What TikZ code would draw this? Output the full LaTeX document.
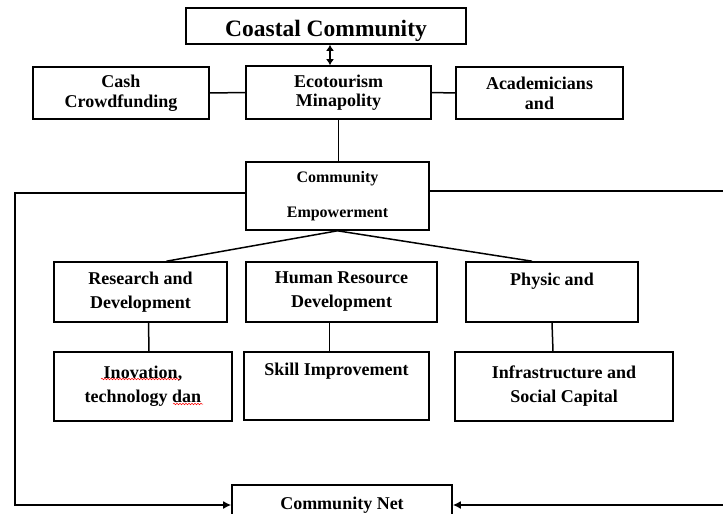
\documentclass[tikz,border=0pt]{standalone}
\usepackage{fontspec}
\setmainfont{Liberation Serif}
\usetikzlibrary{arrows.meta,decorations.pathmorphing}

\begin{document}
\begin{tikzpicture}[x=1pt,y=-1pt,
            box/.style={draw,line width=1.6pt,inner sep=0pt,align=center,
                font=\bfseries\fontsize{18}{24}\selectfont},
            link/.style={line width=1.5pt},
            tip/.style={-{Latex[length=8pt,width=8pt]}},
            both/.style={{Latex[length=6pt,width=8pt]}-{Latex[length=6pt,width=8pt]}},
            spell/.style={red,line width=0.5pt,decorate,
                decoration={snake,amplitude=0.8pt,segment length=3pt}}]
            \clip (0,0) rectangle (723,514);

            \coordinate (Coast) at (326,26);
            \coordinate (Cash) at (121,93);
            \coordinate (Eco) at (338.5,92.5);
            \coordinate (Acad) at (539.5,93);
            \coordinate (Emp) at (337.5,196);
            \coordinate (RD) at (140.5,292);
            \coordinate (HRD) at (341.5,292);
            \coordinate (Phy) at (552,292);
            \coordinate (Inov) at (143,386.5);
            \coordinate (Skill) at (336.5,386);
            \coordinate (Infra) at (564,386.5);
            \coordinate (Net) at (342,505);
            \coordinate (Lt) at (15,193);
            \coordinate (Lb) at (15,505);
            \coordinate (Rt) at (740,191);
            \coordinate (Rb) at (740,505);

            \node[box,minimum width=280pt,minimum height=36pt,text height=22pt,text depth=2pt,
                font=\bfseries\fontsize{23.5}{28}\selectfont] (coast) at (Coast) {Coastal Community};
            \node[box,minimum width=176pt,minimum height=52pt,
                font=\bfseries\fontsize{18}{19.5}\selectfont] (cash) at (Cash) {Cash\\Crowdfunding};
            \node[box,minimum width=185pt,minimum height=53pt,
                font=\bfseries\fontsize{18}{19.5}\selectfont] (eco) at (Eco) {Ecotourism\\Minapolity};
            \node[box,minimum width=167pt,minimum height=52pt,
                font=\bfseries\fontsize{18}{20}\selectfont] (acad) at (Acad) {Academicians\\and};
            \node[box,minimum width=183pt,minimum height=68pt,
                font=\bfseries\fontsize{16}{35}\selectfont] (emp) at (Emp) {Community\\Empowerment};
            \node[box,minimum width=173pt,minimum height=60pt] (rd) at (RD) {Research and\\Development};
            \node[box,minimum width=191pt,minimum height=60pt] (hrd) at (HRD) {Human Resource\\Development};
            \node[box,minimum width=172pt,minimum height=60pt,text depth=26pt] (phy) at (Phy) {Physic and};
            \node[box,minimum width=178pt,minimum height=69pt] (inov) at (Inov) {Inovation,\\technology dan};
            \node[box,minimum width=185pt,minimum height=68pt,text depth=34pt] (skill) at (Skill) {Skill Improvement};
            \node[box,minimum width=218pt,minimum height=69pt] (infra) at (Infra) {Infrastructure and\\Social Capital};
            \node[box,minimum width=220pt,minimum height=40pt] (net) at (Net) {Community Net};

            \draw[link,both] ([xshift=4pt]coast.south) -- ([xshift=-8.5pt]eco.north);
            \draw[link] (cash.east) -- (eco.west);
            \draw[link] (eco.east) -- (acad.west);
            \draw[link] (eco.south) -- (eco.south |- emp.north);
            \draw[link] (emp.south) -- ([xshift=26pt]rd.north);
            \draw[link] (emp.south) -- ([xshift=-20pt]phy.north);
            \draw[link] ([xshift=8pt]rd.south) -- ([xshift=6pt]inov.north);
            \draw[link] ([xshift=-12pt]hrd.south) -- ([xshift=-7pt]skill.north);
            \draw[link] (phy.south) -- ([xshift=-11pt]infra.north);
            \draw[link,tip] ([yshift=3pt]emp.west) -- (Lt) -- (Lb) -- (net.west);
            \draw[link,tip] ([yshift=5pt]emp.east) -- (Rt) -- (Rb) -- (net.east);

            \draw[spell] (101,379) -- (180,379);
            \draw[spell] (173,404) -- (203,404);
        \end{tikzpicture}
\end{document}
